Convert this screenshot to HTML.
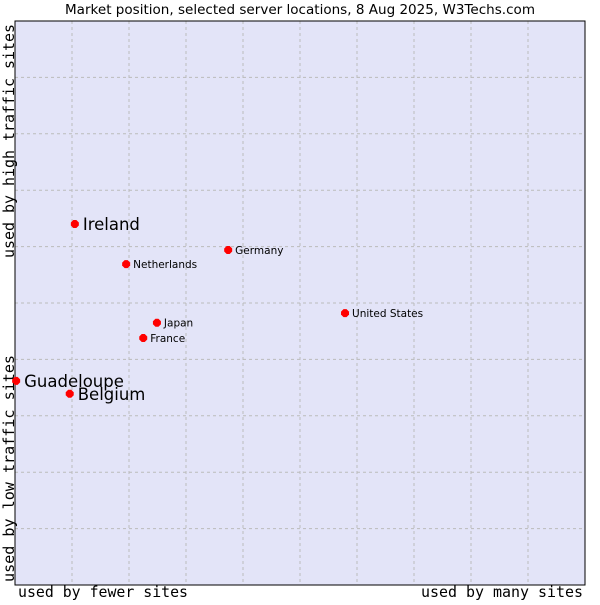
<!DOCTYPE html>
<html><head><meta charset="utf-8"><style>
body{margin:0;background:#fff;}
svg text{font-family:"DejaVu Sans","Liberation Sans",sans-serif;fill:#000;}
.mono{font-family:"DejaVu Sans Mono","Liberation Mono",monospace;font-size:15px;}
</style></head><body>
<svg id="chart" width="600" height="600" xmlns="http://www.w3.org/2000/svg">
<text x="65" y="14" font-size="13" textLength="470" lengthAdjust="spacingAndGlyphs">Market position, selected server locations, 8 Aug 2025, W3Techs.com</text>
<rect x="15" y="21" width="570" height="564" fill="#e3e4f8"/>
<g id="grid"></g>
<rect x="15" y="21" width="570" height="564" fill="none" stroke="#000" stroke-width="1"/>
<g id="points"></g>
<text class="mono" x="18" y="597" textLength="170" lengthAdjust="spacingAndGlyphs">used by fewer sites</text>
<text class="mono" x="421" y="597" textLength="162" lengthAdjust="spacingAndGlyphs">used by many sites</text>
<text class="mono" transform="translate(14,582) rotate(-90)" textLength="227" lengthAdjust="spacingAndGlyphs">used by low traffic sites</text>
<text class="mono" transform="translate(14,258) rotate(-90)" textLength="234" lengthAdjust="spacingAndGlyphs">used by high traffic sites</text>
</svg>
<script>
const names=["Ireland","Germany","Netherlands","United States","Japan","France","Guadeloupe","Belgium"];
const xVals=[10.5,37.4,19.5,57.9,24.9,22.5,0.2,9.6];
const yVals=[64.0,59.4,56.9,48.2,46.5,43.8,36.2,33.9];
const bigLabel=[true,false,false,false,false,false,true,true];
const NS="http://www.w3.org/2000/svg";
const X0=15,X1=585,Y0=585,Y1=21;
const sx=v=>X0+(X1-X0)*v/100, sy=v=>Y0-(Y0-Y1)*v/100;
const grid=document.getElementById('grid');
for(let i=1;i<10;i++){
  const v=document.createElementNS(NS,'line');
  v.setAttribute('x1',sx(i*10));v.setAttribute('x2',sx(i*10));v.setAttribute('y1',Y1);v.setAttribute('y2',Y0);
  v.setAttribute('stroke','#bbbbbb');v.setAttribute('stroke-dasharray','3,3');
  
  
  grid.appendChild(v);
  const h=document.createElementNS(NS,'line');
  h.setAttribute('y1',sy(i*10));h.setAttribute('y2',sy(i*10));h.setAttribute('x1',X0);h.setAttribute('x2',X1);
  h.setAttribute('stroke','#bbbbbb');h.setAttribute('stroke-dasharray','3,3');
  
  
  grid.appendChild(h);
}
const pts=document.getElementById('points');
names.forEach((n,i)=>{
  const x=sx(xVals[i]),y=sy(yVals[i]);
  const p=document.createElementNS(NS,'path');
  p.setAttribute('d',`M${x-4},${y-1.5}L${x-1.5},${y-4}L${x+1.5},${y-4}L${x+4},${y-1.5}L${x+4},${y+1.5}L${x+1.5},${y+4}L${x-1.5},${y+4}L${x-4},${y+1.5}Z`);
  p.setAttribute('fill','#f00');
  
  
  pts.appendChild(p);
  const t=document.createElementNS(NS,'text');
  t.setAttribute('x',x+(bigLabel[i]?8:7));
  t.setAttribute('y',y+(bigLabel[i]?6:4));
  t.setAttribute('font-size',bigLabel[i]?'16.5':'10.5');
  t.setAttribute('fill','#111');
  t.textContent=n;
  
  
  pts.appendChild(t);
});
</script>
</body></html>
